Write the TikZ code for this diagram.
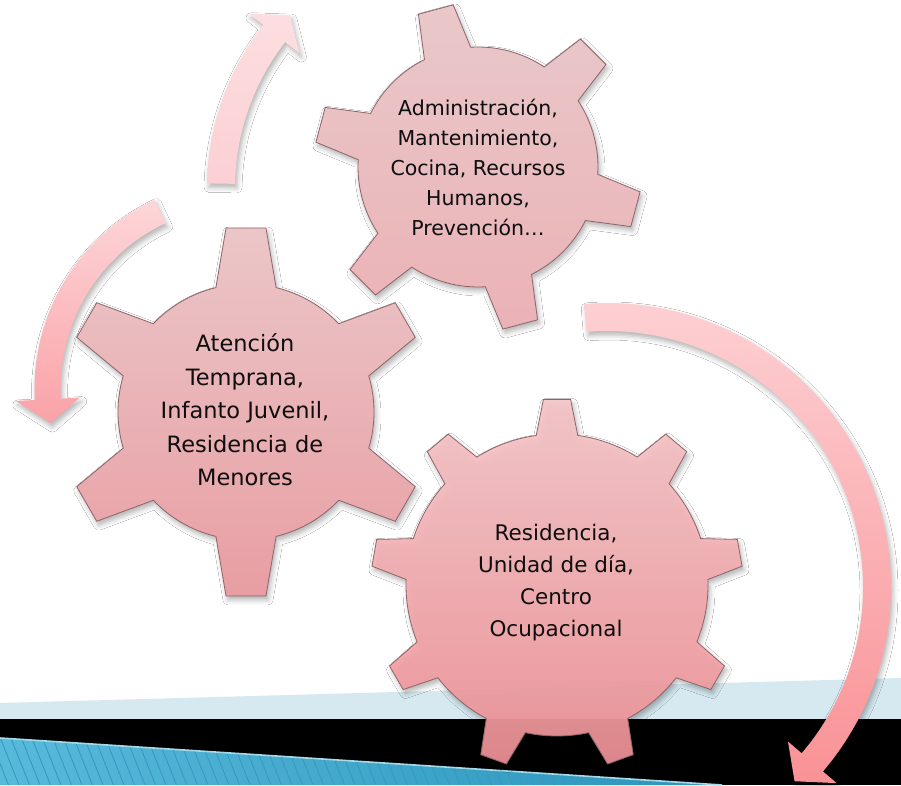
\documentclass[tikz,border=0pt]{standalone}
\usepackage{fontspec}
\setmainfont{DejaVu Sans}
\usetikzlibrary{shadows.blur}
\definecolor{gearline}{HTML}{8C6469}
\definecolor{lightband}{HTML}{D6E8F0}
\definecolor{bluestripeL}{HTML}{58BADB}
\definecolor{bluestripeR}{HTML}{2A94BC}
\definecolor{hatchcol}{HTML}{3A98BE}
\definecolor{highlight}{HTML}{A6DAE9}
\definecolor{txt}{HTML}{0E0E0E}
\tikzset{
  softshadow/.style={blur shadow={shadow xshift=2pt, shadow yshift=-4pt, shadow blur radius=5pt, shadow opacity=30}},
  gearbody/.style={softshadow, draw=gearline, line width=0.8pt, line join=miter},
  bandarrow/.style={softshadow},
  geartext/.style={align=center, text=txt, inner sep=0pt},
}
% gear: #1 style, #2 cx, #3 cy, #4 teeth, #5 first angle, #6 outer R, #7 body r, #8 tip half-angle, #9 base half-angle
\newcommand\mygear[9]{%
  \begin{scope}[shift={(#2,#3)}]
    \path[#1] ({#5-#9}:#7)
      \foreach \k in {1,...,#4}{
        -- ({#5+(\k-1)*360/#4-#8}:#6)
        -- ({#5+(\k-1)*360/#4+#8}:#6)
        -- ({#5+(\k-1)*360/#4+#9}:#7)
        arc[start angle={#5+(\k-1)*360/#4+#9}, end angle={#5+\k*360/#4-#9}, radius=#7]
      } -- cycle;
  \end{scope}}
% curved arrow: #1 style, #2 cx, #3 cy, #4 R, #5 half width, #6 start angle, #7 head base angle, #8 tip angle, #9 head half width
\newcommand\myarrow[9]{%
  \begin{scope}[shift={(#2,#3)}]
    \path[#1] ({#6}:{#4+#5}) arc[start angle={#6}, end angle={#7}, radius={#4+#5}]
      -- ({#7}:{#4+#9}) -- ({#8}:{#4}) -- ({#7}:{#4-#9}) -- ({#7}:{#4-#5})
      arc[start angle={#7}, end angle={#6}, radius={#4-#5}] -- cycle;
  \end{scope}}
\begin{document}
\begin{tikzpicture}[x=1pt,y=1pt]
\useasboundingbox (0,0) rectangle (901,785);
\fill[white] (0,0) rectangle (901,785);
% bottom decoration
\fill[lightband] (0,82) -- (901,107) -- (901,66) -- (0,66) -- cycle;
\fill[black] (0,0) rectangle (901,66);
\begin{scope}
  \clip (0,47) -- (722,0) -- (0,0) -- cycle;
  \shade[left color=bluestripeL, right color=bluestripeR] (0,0) rectangle (722,48);
  \foreach \i in {-4,...,72}{
    \draw[hatchcol, line width=0.9pt] ({\i*10.5},48) -- ({\i*10.5+19},0);
  }
\end{scope}
\draw[highlight, line width=1.6pt] (0,47) -- (722,0);
% curved arrows
\myarrow{bandarrow, top color={rgb,255:red,253;green,222;blue,224}, bottom color={rgb,255:red,251;green,208;blue,212}}{472}{597}{251}{14}{179}{142}{136.5}{32}
\myarrow{bandarrow, top color={rgb,255:red,253;green,214;blue,217}, bottom color={rgb,255:red,250;green,162;blue,167}}{244}{396}{196.5}{13}{115.3}{183}{190}{32}
\myarrow{bandarrow, top color={rgb,255:red,253;green,209;blue,212}, bottom color={rgb,255:red,249;green,146;blue,150}}{607}{198}{270}{14}{94.6}{-40.5}{-46}{32}
% gears
\mygear{gearbody, top color={rgb,255:red,233;green,200;blue,202}, bottom color={rgb,255:red,235;green,178;blue,182}}{478}{618}{6}{45}{164}{120}{6.3}{11.5}
\mygear{gearbody, top color={rgb,255:red,235;green,198;blue,200}, bottom color={rgb,255:red,232;green,158;blue,163}}{246}{373}{6}{90}{185}{128}{6.2}{13.6}
\mygear{gearbody, fill opacity=0.92, top color={rgb,255:red,246;green,198;blue,201}, bottom color={rgb,255:red,240;green,146;blue,151}}{557}{200}{9}{90}{186}{151}{4.2}{7.9}
% texts
\node[geartext, font=\fontsize{20.5}{30}\selectfont] (t1) at (478,618) {Administración,\\Mantenimiento,\\Cocina, Recursos\\Humanos,\\Prevención…};
\node[geartext, font=\fontsize{22.5}{33.5}\selectfont] (t2) at (245,375) {Atención\\Temprana,\\Infanto Juvenil,\\Residencia de\\Menores};
\node[geartext, font=\fontsize{21.5}{32}\selectfont] (t3) at (556,202) {Residencia,\\Unidad de día,\\Centro\\Ocupacional};
\end{tikzpicture}
\end{document}
